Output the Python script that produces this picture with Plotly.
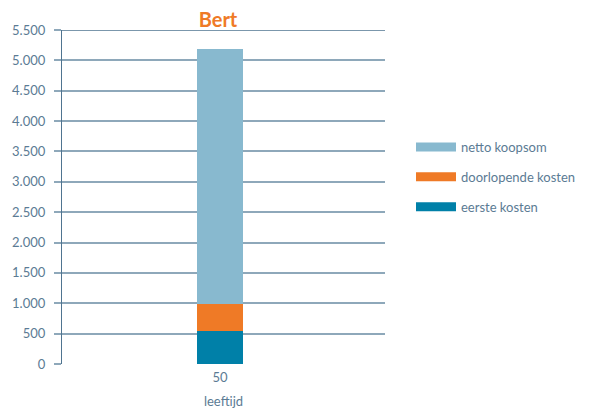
import plotly.graph_objects as go

categories = ["50"]
series_names = ["eerste kosten", "doorlopende kosten", "netto koopsom"]
eerste_kosten = [540]
doorlopende_kosten = [440]
netto_koopsom = [4210]
colors = ["#0080a8", "#ef7a26", "#88b9cf"]
y_ticks = list(range(0, 5501, 500))

fig = go.Figure()
for name, vals, col in zip(series_names, [eerste_kosten, doorlopende_kosten, netto_koopsom], colors):
    fig.add_trace(go.Bar(x=categories, y=vals, name=name, marker=dict(color=col, line=dict(width=0)),
                         width=0.142, showlegend=False))
# legend entries (wide colour bars as in the reference), top to bottom
for name, col in list(zip(series_names, colors))[::-1]:
    fig.add_trace(go.Scatter(x=[None], y=[None], mode="lines", name=name,
                             line=dict(color=col, width=9), legendgroup=name, showlegend=True))

axis_col = "#4f7490"
W, H = 583, 402
L, T = 54, 22
R = W - 377
B = H - 356
fig.update_layout(
    width=W, height=H,
    margin=dict(l=L, r=R, t=T, b=B, autoexpand=False),
    plot_bgcolor="white", paper_bgcolor="white",
    barmode="stack",
    separators=",.",
    font=dict(family="Lato, Open Sans, sans-serif", color="#5b7b94", size=13),
    title=dict(text="<b>Bert</b>", x=(210 - 0) / W, xanchor="center", y=1 - 12 / H, yanchor="middle",
               font=dict(size=20, color="#ef7a26", family="Lato, Open Sans, sans-serif")),
    legend=dict(x=(403 - L) / (W - L - R), y=0.56, xanchor="left", yanchor="middle", traceorder="grouped",
                tracegroupgap=10, font=dict(size=13, color="#5b7b94"), itemwidth=40),
    xaxis=dict(type="category", showgrid=False, showline=False, ticks="", automargin=False,
               range=[-0.489, 0.511],
               title=dict(text="leeftijd", standoff=12, font=dict(size=13)),
               tickfont=dict(size=13), ticklabelstandoff=4),
    yaxis=dict(range=[0, 5500], tickvals=y_ticks, tickformat=",d", showgrid=True, automargin=False,
               gridcolor="#8ea8ba", gridwidth=1.5, showline=True, linecolor=axis_col, linewidth=1.2,
               ticks="outside", ticklen=7, tickcolor="#8ea8ba", tickwidth=1.5,
               zeroline=False, tickfont=dict(size=13), ticklabelstandoff=6),
)
fig.add_shape(type="line", xref="paper", yref="y", x0=0, x1=1, y0=5500, y1=5500,
              line=dict(color=axis_col, width=1.5))
fig.write_html("out.html")
